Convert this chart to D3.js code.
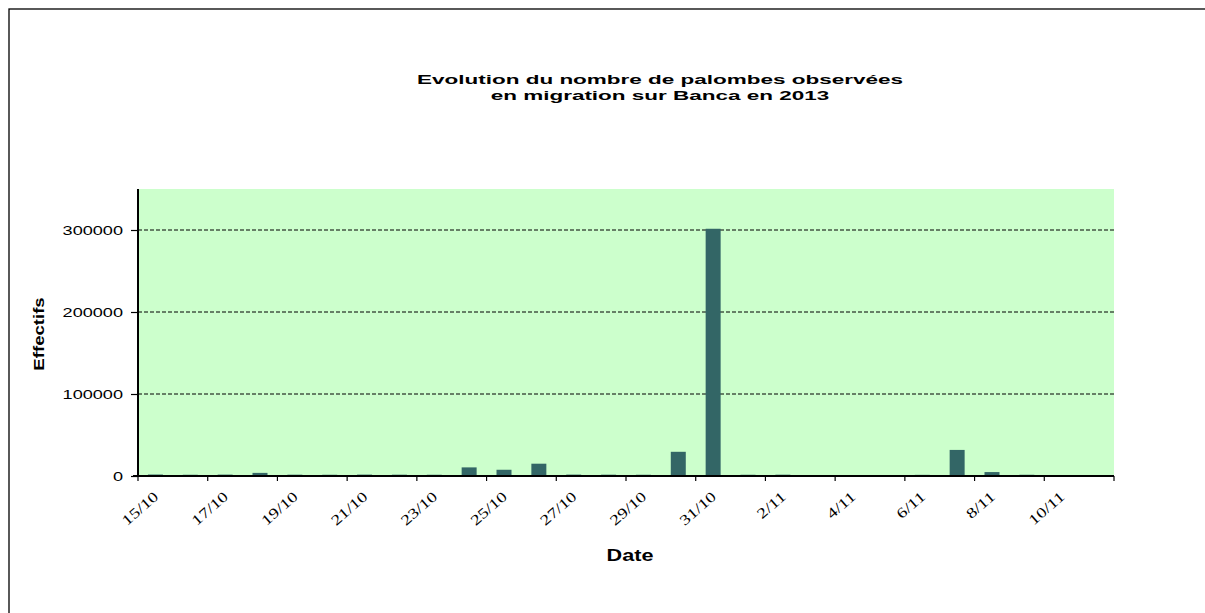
<!DOCTYPE html>
<html>
<head>
<meta charset="utf-8">
<script src="https://cdn.jsdelivr.net/npm/d3@7"></script>
<style>
  body { margin: 0; background: #fff; }
  svg { display: block; }
</style>
</head>
<body>
<svg id="chart" width="1205" height="613"></svg>
<script>
// daily counts, 15/10 -> 11/11 2013
const dates = ["15/10","16/10","17/10","18/10","19/10","20/10","21/10","22/10","23/10","24/10",
  "25/10","26/10","27/10","28/10","29/10","30/10","31/10","1/11","2/11","3/11",
  "4/11","5/11","6/11","7/11","8/11","9/11","10/11","11/11"];
const counts = [1800,1500,1700,3800,1600,1500,1700,1600,1500,10500,
  7600,15000,1700,1600,1500,29500,301500,1500,1600,0,
  0,0,1400,31800,4800,1500,0,0];
const yTicks = [0, 100000, 200000, 300000];
const gridValues = [100000, 200000, 300000];
const titleLines = ["Evolution du nombre de palombes observées", "en migration sur Banca en 2013"];

const svg = d3.select("#chart");
const plot = { left: 138, right: 1114, top: 189, bottom: 476 };

// outer frame
svg.append("rect")
  .attr("x", 9).attr("y", 9)
  .attr("width", 1210).attr("height", 620)
  .attr("fill", "#fff").attr("stroke", "#000").attr("stroke-width", 1.3);

const x = d3.scaleBand()
  .domain(dates)
  .range([plot.left, plot.right])
  .paddingInner(0.57)
  .paddingOuter(0.285);

const band = (plot.right - plot.left) / dates.length;

const y = d3.scaleLinear()
  .domain([0, 350000])
  .range([plot.bottom, plot.top]);

// plot background
svg.append("rect")
  .attr("x", plot.left).attr("y", plot.top)
  .attr("width", plot.right - plot.left).attr("height", plot.bottom - plot.top)
  .attr("fill", "#ccffcc");

// dashed gridlines
svg.append("g").selectAll("line")
  .data(gridValues)
  .enter().append("line")
  .attr("x1", plot.left).attr("x2", plot.right)
  .attr("y1", d => y(d)).attr("y2", d => y(d))
  .attr("stroke", "#000").attr("stroke-width", 1)
  .attr("stroke-dasharray", "4,2");

// bars
svg.append("g").selectAll("rect")
  .data(counts)
  .enter().append("rect")
  .attr("x", (d, i) => x(dates[i]))
  .attr("width", x.bandwidth())
  .attr("y", d => y(d))
  .attr("height", d => plot.bottom - y(d))
  .attr("fill", "#336666");

// y axis
const yAxis = svg.append("g")
  .attr("transform", "translate(" + plot.left + ",0)")
  .call(d3.axisLeft(y).tickValues(yTicks).tickSize(7).tickFormat(d3.format("d")));
yAxis.select(".domain").attr("stroke", "#000").attr("stroke-width", 2)
  .attr("d", "M0," + plot.top + "V" + plot.bottom);
yAxis.selectAll(".tick line").attr("stroke", "#000").attr("stroke-width", 1.2);
yAxis.selectAll(".tick text")
  .attr("x", null).attr("dy", null)
  .attr("font-family", "Liberation Sans, Arial, sans-serif")
  .attr("font-size", 12.5)
  .attr("fill", "#000")
  .attr("text-anchor", "end")
  .attr("transform", "translate(-15,4.5) scale(1.45,1)");

// x axis: ticks every two days
const tickPos = d3.range(0, dates.length + 1, 2);
const xAxis = svg.append("g");
xAxis.append("line")
  .attr("x1", plot.left - 5).attr("x2", plot.right)
  .attr("y1", plot.bottom).attr("y2", plot.bottom)
  .attr("stroke", "#000").attr("stroke-width", 2);
xAxis.selectAll(".xtick")
  .data(tickPos)
  .enter().append("line")
  .attr("class", "xtick")
  .attr("x1", i => plot.left + i * band).attr("x2", i => plot.left + i * band)
  .attr("y1", plot.bottom).attr("y2", plot.bottom + 5)
  .attr("stroke", "#000").attr("stroke-width", 1.2);

xAxis.selectAll(".xlabel")
  .data(dates.filter((d, i) => i % 2 === 0))
  .enter().append("text")
  .attr("class", "xlabel")
  .attr("transform", d => "translate(" + (x(d) + x.bandwidth() / 2 + 4) + "," + (plot.bottom + 22) + ") rotate(-41) scale(1.3,1)")
  .attr("text-anchor", "end")
  .attr("font-family", "Liberation Serif, Times New Roman, serif")
  .attr("font-size", 14.5)
  .attr("fill", "#000")
  .text(d => d);

// titles
svg.append("g").selectAll("text")
  .data(titleLines)
  .enter().append("text")
  .attr("transform", (d, i) => "translate(660," + (84 + i * 16) + ") scale(1.8,1)")
  .attr("text-anchor", "middle")
  .attr("font-family", "Liberation Sans, Arial, sans-serif")
  .attr("font-weight", "bold")
  .attr("font-size", 12.5)
  .text(d => d);

svg.append("text")
  .attr("transform", "translate(630,561) scale(1.27,1)")
  .attr("text-anchor", "middle")
  .attr("font-family", "Liberation Sans, Arial, sans-serif")
  .attr("font-weight", "bold")
  .attr("font-size", 17)
  .text("Date");

svg.append("text")
  .attr("transform", "translate(44,334) rotate(-90) scale(1.24,1)")
  .attr("text-anchor", "middle")
  .attr("font-family", "Liberation Sans, Arial, sans-serif")
  .attr("font-weight", "bold")
  .attr("font-size", 15)
  .text("Effectifs");
</script>
</body>
</html>
